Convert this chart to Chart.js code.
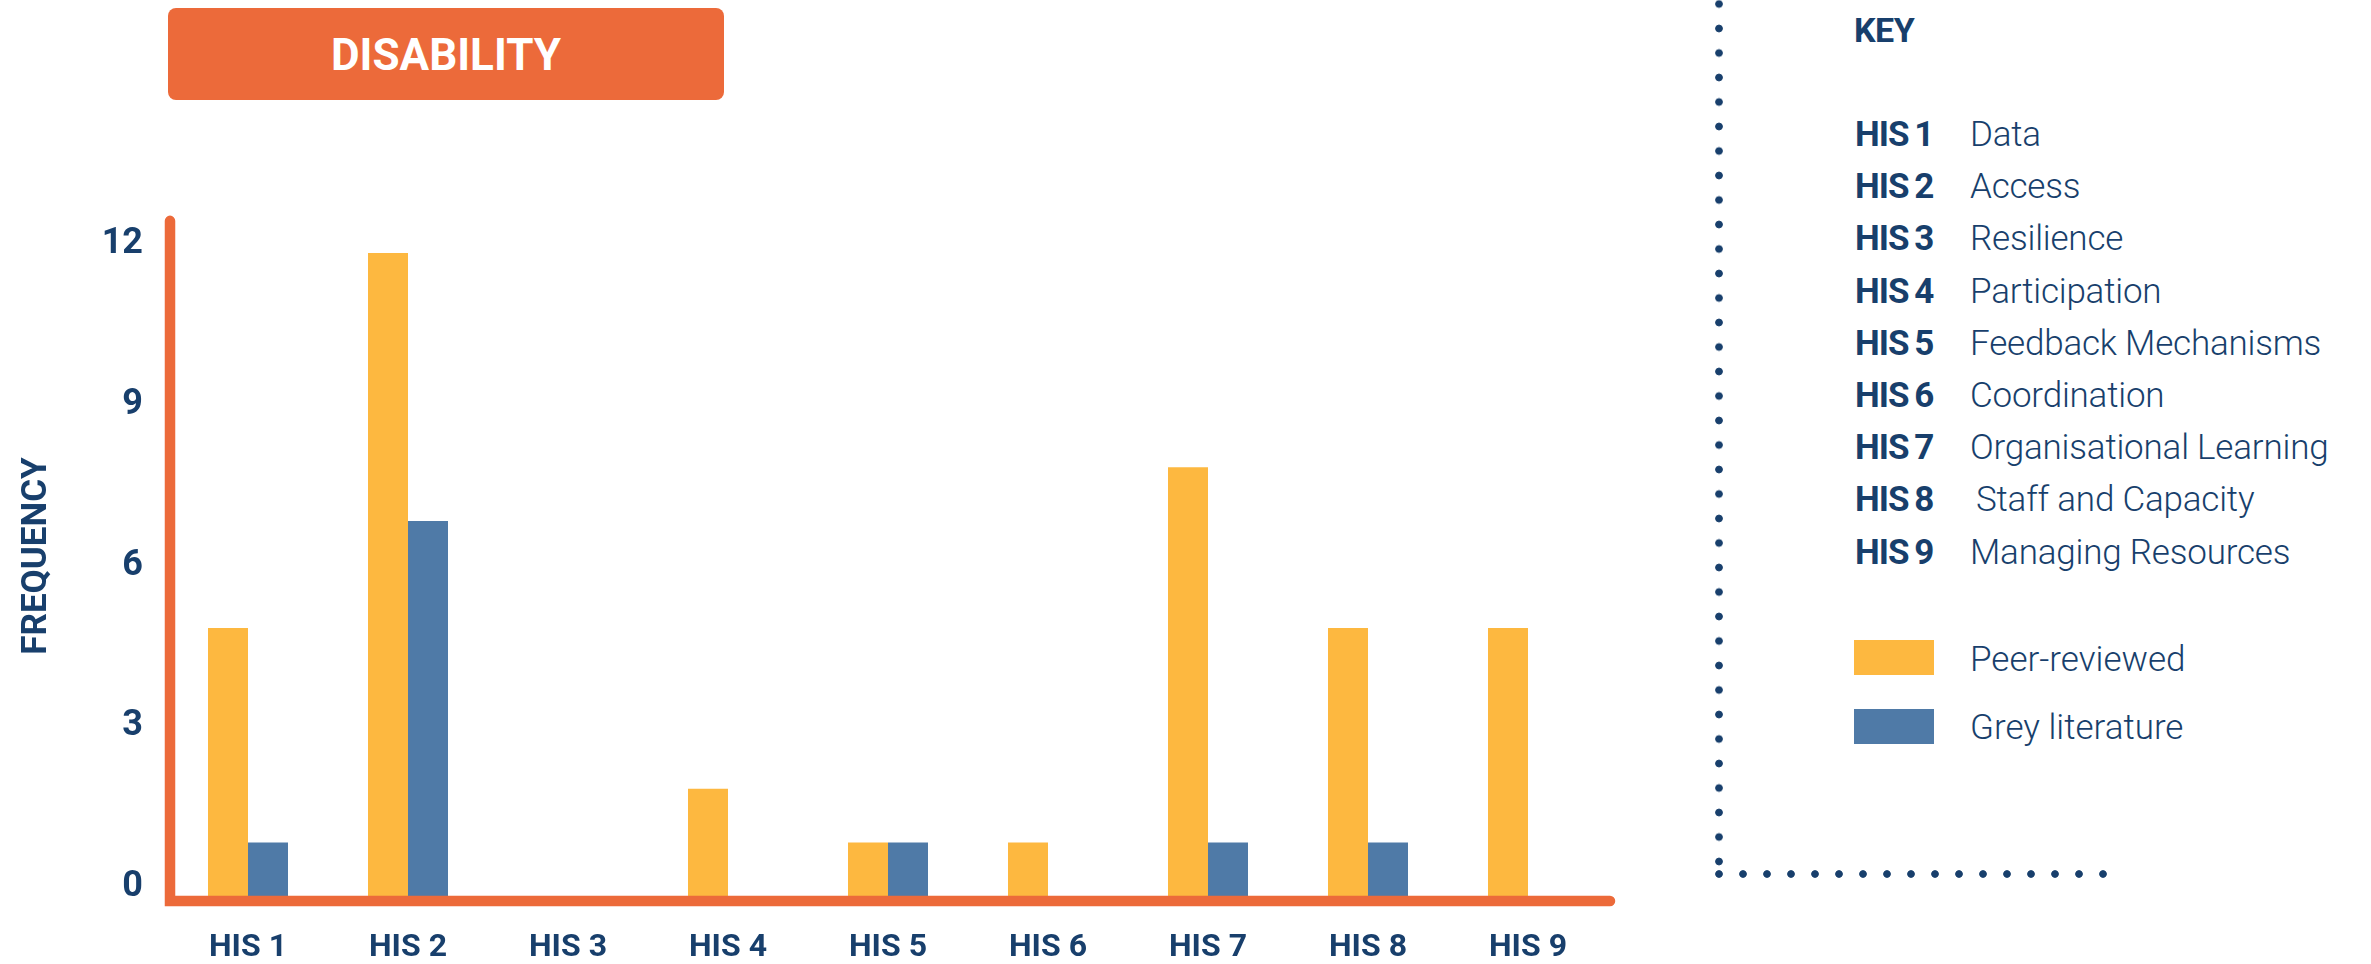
<!DOCTYPE html>
<html>
<head>
<meta charset="utf-8">
<script src="https://cdn.jsdelivr.net/npm/chart.js@4.4.0/dist/chart.umd.min.js"></script>
<style>
    html, body { margin: 0; padding: 0; background: #fff; }
    body { width: 2371px; height: 964px; position: relative; overflow: hidden; font-family: Roboto, "Noto Sans", sans-serif; color: #183f6c; }
    #chart-wrap { position: absolute; left: 0; top: 0; width: 1720px; height: 964px; }
    .title-box { position: absolute; left: 168px; top: 8px; width: 556px; height: 92px; background: #ec6a3a; border-radius: 8px; color: #fff; font-weight: 700; font-size: 44px; line-height: 94px; text-align: center; }
    .y-title { position: absolute; left: 35px; top: 556px; width: 0; height: 0; }
    .y-title div { position: absolute; left: -150px; top: -21px; width: 300px; line-height: 42px; text-align: center; font-size: 35px; font-weight: 700; transform: rotate(-90deg); }
    .dots-v { position: absolute; left: 1715px; top: 0; width: 8px; height: 866px; background: radial-gradient(circle, #183f6c 0 3.4px, rgba(24,63,108,0) 4.2px); background-size: 8px 24.5px; background-position: 0 -8.25px; }
    .dots-h { position: absolute; left: 1715px; top: 870px; width: 392px; height: 8px; background: radial-gradient(circle, #183f6c 0 3.4px, rgba(24,63,108,0) 4.2px); background-size: 24px 8px; background-position: -8px 0; }
    .key-title { position: absolute; left: 1854px; top: 10px; font-size: 34px; font-weight: 700; line-height: 40px; letter-spacing: -0.5px; }
    .key-row { position: absolute; left: 1855px; height: 40px; line-height: 40px; white-space: nowrap; }
    .key-row b { display: inline-block; width: 115px; font-size: 35px; font-weight: 700; letter-spacing: -1px; word-spacing: -2px; }
    .key-row span { font-size: 35px; font-weight: 300; letter-spacing: -0.2px; }
    .swatch { position: absolute; left: 1854px; width: 80px; height: 35px; }
    .swatch-label { position: absolute; left: 1970px; font-size: 35px; font-weight: 300; line-height: 40px; letter-spacing: 0; white-space: nowrap; }
</style>
</head>
<body>
<div class="title-box">DISABILITY</div>
<div id="chart-wrap"><canvas id="chartDisability"></canvas></div>
<div class="y-title"><div>FREQUENCY</div></div>
<div class="dots-v"></div>
<div class="dots-h"></div>
<div class="key-title">KEY</div>
<div id="key-list"></div>
<script>
// Data
const categories = ['HIS 1', 'HIS 2', 'HIS 3', 'HIS 4', 'HIS 5', 'HIS 6', 'HIS 7', 'HIS 8', 'HIS 9'];
const peerReviewed = [5, 12, 0, 2, 1, 1, 8, 5, 5];
const greyLiterature = [1, 7, 0, 0, 1, 0, 1, 1, 0];
const yTicks = [0, 3, 6, 9, 12];
const keyNames = ['Data', 'Access', 'Resilience', 'Participation', 'Feedback Mechanisms', 'Coordination', 'Organisational Learning', 'Staff and Capacity', 'Managing Resources'];
const seriesNames = ['Peer-reviewed', 'Grey literature'];

const ORANGE = '#ec6a3a';
const YELLOW = '#fdb840';
const BLUE = '#4f7aa7';
const NAVY = '#183f6c';

// Key panel
const keyList = document.getElementById('key-list');
categories.forEach(function(cat, i) {
    const row = document.createElement('div');
    row.className = 'key-row';
    row.style.top = (115 + i * 52.2) + 'px';
    row.innerHTML = '<b>' + cat + '</b><span' + (i === 7 ? ' style="padding-left:6px"' : '') + '>' + keyNames[i] + '</span>';
    keyList.appendChild(row);
});
[YELLOW, BLUE].forEach(function(col, i) {
    const sw = document.createElement('div');
    sw.className = 'swatch';
    sw.style.top = (640 + i * 69) + 'px';
    sw.style.background = col;
    keyList.appendChild(sw);
    const lb = document.createElement('div');
    lb.className = 'swatch-label';
    lb.style.top = (640 + i * 68) + 'px';
    lb.textContent = seriesNames[i];
    keyList.appendChild(lb);
});

// Axis lines with rounded ends
const axisLines = {
    id: 'axisLines',
    afterDatasetsDraw(chart) {
        const {ctx, chartArea, scales: {y}} = chart;
        const x0 = chartArea.left + 2;
        const yb = chartArea.bottom + 5;
        ctx.save();
        ctx.strokeStyle = ORANGE;
        ctx.lineWidth = 10.5;
        ctx.lineCap = 'round';
        ctx.lineJoin = 'miter';
        ctx.beginPath();
        ctx.moveTo(x0, y.getPixelForValue(12.6));
        ctx.lineTo(x0, yb);
        ctx.lineTo(chartArea.right + 2, yb);
        ctx.stroke();
        ctx.restore();
    }
};

Chart.defaults.font.family = 'Roboto, "Noto Sans", sans-serif';

new Chart(document.getElementById('chartDisability').getContext('2d'), {
    type: 'bar',
    data: {
        labels: categories,
        datasets: [{
            label: seriesNames[0],
            data: peerReviewed,
            backgroundColor: YELLOW,
            borderWidth: 0,
            barPercentage: 1,
            categoryPercentage: 0.5
        }, {
            label: seriesNames[1],
            data: greyLiterature,
            backgroundColor: BLUE,
            borderWidth: 0,
            barPercentage: 1,
            categoryPercentage: 0.5
        }]
    },
    options: {
        responsive: true,
        maintainAspectRatio: false,
        animation: false,
        layout: { padding: { top: 253, right: 112, bottom: 0, left: 0 } },
        plugins: { legend: { display: false }, tooltip: { enabled: false } },
        scales: {
            x: {
                grid: { display: false, drawTicks: false },
                border: { display: false },
                ticks: { color: NAVY, font: { size: 32, weight: 'bold' }, padding: 33, maxRotation: 0 },
                afterFit(scale) { scale.height = 68; }
            },
            y: {
                min: 0,
                max: 12,
                grid: { display: false, drawTicks: false },
                border: { display: false },
                afterBuildTicks(scale) { scale.ticks = yTicks.map(v => ({ value: v })); },
                ticks: { color: NAVY, font: { size: 36, weight: 'bold' }, padding: 25, labelOffset: -9 },
                afterFit(scale) { scale.width = 168; }
            }
        }
    },
    plugins: [axisLines]
});
</script>
</body>
</html>
